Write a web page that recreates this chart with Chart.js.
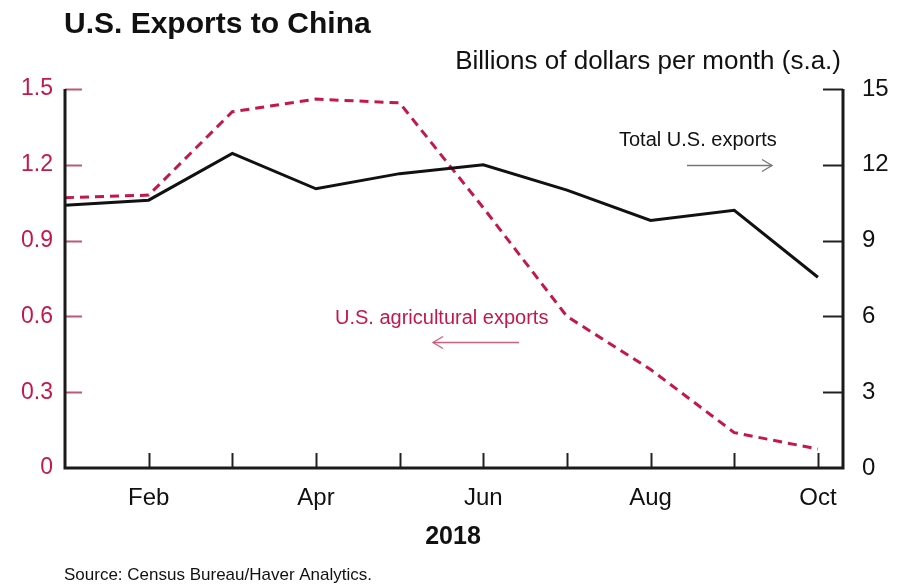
<!DOCTYPE html>
<html>
<head>
<meta charset="utf-8">
<script src="https://cdn.jsdelivr.net/npm/chart.js@4/dist/chart.umd.min.js"></script>
<style>
  body { margin: 0; background: #fff; }
  canvas { display: block; }
</style>
</head>
<body>
<canvas id="grafico" width="906" height="584"></canvas>
<script>
// Dados
const meses = ['Jan', 'Feb', 'Mar', 'Apr', 'May', 'Jun', 'Jul', 'Aug', 'Sep', 'Oct'];
const rotulosX = ['', 'Feb', '', 'Apr', '', 'Jun', '', 'Aug', '', 'Oct'];
const totalExports = [10.4, 10.6, 12.45, 11.05, 11.65, 12.0, 11.0, 9.8, 10.2, 7.55];
const agExports = [1.07, 1.08, 1.41, 1.46, 1.445, 1.03, 0.60, 0.39, 0.14, 0.075];
const ticksEsq = [0, 0.3, 0.6, 0.9, 1.2, 1.5];
const ticksDir = [0, 3, 6, 9, 12, 15];

const FONTE = "'Liberation Sans', Arial, sans-serif";
const VERMELHO = '#c4174b';

// Desenha eixos, marcas e textos
const decoracao = {
  id: 'decoracao',
  afterDraw(chart) {
    const { ctx, chartArea: a, scales } = chart;
    const { x, yL, yR } = scales;
    ctx.save();

    // marcas do eixo esquerdo (para dentro)
    ctx.strokeStyle = 'rgba(175,60,95,0.85)';
    ctx.lineWidth = 2;
    ticksEsq.slice(1).forEach(v => {
      const y = Math.round(yL.getPixelForValue(v)) + 0.5;
      ctx.beginPath(); ctx.moveTo(a.left, y); ctx.lineTo(a.left + 17, y); ctx.stroke();
    });

    // marcas do eixo direito
    ctx.strokeStyle = '#222';
    ticksDir.slice(1).forEach(v => {
      const y = Math.round(yR.getPixelForValue(v)) + 0.5;
      ctx.beginPath(); ctx.moveTo(a.right, y); ctx.lineTo(a.right - 20, y); ctx.stroke();
    });

    // marcas do eixo x
    meses.forEach((m, i) => {
      if (i === 0) return;
      const px = Math.round(x.getPixelForValue(i)) + 0.5;
      ctx.beginPath(); ctx.moveTo(px, a.bottom); ctx.lineTo(px, a.bottom - 15); ctx.stroke();
    });

    // linhas dos eixos
    ctx.lineWidth = 3;
    ctx.strokeStyle = '#1a1a1a';
    ctx.beginPath();
    ctx.moveTo(a.left, a.top);
    ctx.lineTo(a.left, a.bottom);
    ctx.lineTo(a.right, a.bottom);
    ctx.lineTo(a.right, a.top);
    ctx.stroke();

    // título e unidades
    ctx.fillStyle = '#111';
    ctx.textBaseline = 'middle';
    ctx.textAlign = 'left';
    ctx.font = 'bold 30px ' + FONTE;
    ctx.fillText('U.S. Exports to China', 64, 25);
    ctx.font = '26px ' + FONTE;
    ctx.textAlign = 'right';
    ctx.fillText('Billions of dollars per month (s.a.)', 841, 62);

    // ano
    ctx.textAlign = 'center';
    ctx.font = 'bold 25px ' + FONTE;
    ctx.fillText('2018', 453, 537);

    // fonte
    ctx.textAlign = 'left';
    ctx.font = '17px ' + FONTE;
    ctx.fillText('Source: Census Bureau/Haver Analytics.', 64, 575);

    // anotações
    ctx.font = '20px ' + FONTE;
    ctx.fillStyle = '#111';
    ctx.fillText('Total U.S. exports', 619, 140);
    ctx.fillStyle = VERMELHO;
    ctx.fillText('U.S. agricultural exports', 335, 318);

    function seta(x1, x2, y, cor) {
      const dir = Math.sign(x2 - x1);
      ctx.strokeStyle = cor;
      ctx.lineWidth = 1.3;
      ctx.beginPath(); ctx.moveTo(x1, y); ctx.lineTo(x2, y); ctx.stroke();
      ctx.beginPath();
      ctx.moveTo(x2 - dir * 10, y - 6);
      ctx.lineTo(x2, y);
      ctx.lineTo(x2 - dir * 10, y + 6);
      ctx.stroke();
    }
    seta(687, 772, 165.5, '#777');
    seta(519, 433, 342.5, '#d0607f');

    ctx.restore();
  }
};

new Chart(document.getElementById('grafico'), {
  type: 'line',
  data: {
    datasets: [
      {
        label: 'Total U.S. exports',
        data: totalExports.map((v, i) => ({ x: i, y: v })),
        yAxisID: 'yR',
        borderColor: '#111',
        borderWidth: 3,
        pointRadius: 0,
        tension: 0
      },
      {
        label: 'U.S. agricultural exports',
        data: agExports.map((v, i) => ({ x: i, y: v })),
        yAxisID: 'yL',
        borderColor: VERMELHO,
        borderWidth: 3,
        borderDash: [9, 6],
        pointRadius: 0,
        tension: 0
      }
    ]
  },
  options: {
    responsive: false,
    animation: false,
    layout: { padding: { top: 89, left: 0, right: 0, bottom: 0 } },
    plugins: {
      legend: { display: false },
      tooltip: { enabled: false }
    },
    scales: {
      x: {
        type: 'linear',
        min: 0,
        max: 9.3,
        afterBuildTicks: s => { s.ticks = meses.map((m, i) => ({ value: i })); },
        afterFit: s => { s.height = 116; },
        grid: { display: false, drawTicks: false },
        border: { display: false },
        ticks: {
          padding: 16,
          autoSkip: false,
          maxRotation: 0,
          color: '#111',
          font: { family: FONTE, size: 24 },
          callback: v => rotulosX[v] || ''
        }
      },
      yL: {
        position: 'left',
        min: 0,
        max: 1.5,
        afterBuildTicks: s => { s.ticks = ticksEsq.map(v => ({ value: v })); },
        afterFit: s => { s.width = 65; },
        grid: { display: false, drawTicks: false },
        border: { display: false },
        ticks: {
          padding: 12,
          color: VERMELHO,
          font: { family: FONTE, size: 23 },
          callback: v => (v === 0 ? '0' : v.toFixed(1))
        }
      },
      yR: {
        position: 'right',
        min: 0,
        max: 15,
        afterBuildTicks: s => { s.ticks = ticksDir.map(v => ({ value: v })); },
        afterFit: s => { s.width = 63; },
        grid: { display: false, drawTicks: false },
        border: { display: false },
        ticks: {
          padding: 19,
          color: '#111',
          font: { family: FONTE, size: 24 },
          callback: v => String(v)
        }
      }
    }
  },
  plugins: [decoracao]
});
</script>
</body>
</html>
